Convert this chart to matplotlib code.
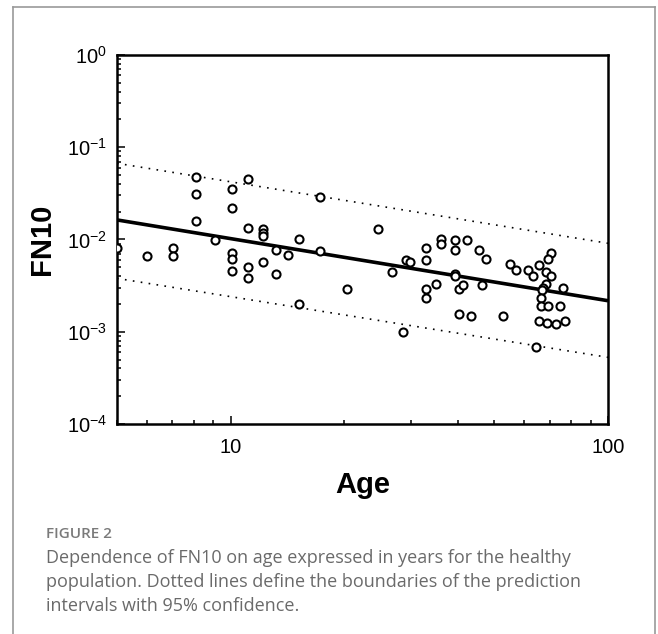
import numpy as np
import matplotlib
matplotlib.use("Agg")
import matplotlib.pyplot as plt
from matplotlib.lines import Line2D
from matplotlib.ticker import LogLocator, FuncFormatter, NullFormatter

plt.rcParams['font.family'] = ['Liberation Sans', 'DejaVu Sans']

# data (age in years, FN10)
age = np.array([5.0, 6.0, 7.05, 7.05, 8.1, 8.1, 8.1, 9.1,
                10.1, 10.1, 10.1, 10.1, 10.1, 11.1, 11.1, 11.1, 11.1,
                12.2, 12.2, 12.2, 12.2, 13.2, 13.2, 14.2, 15.2, 15.2,
                17.3, 17.3, 20.4, 24.6, 26.7, 28.7, 29.2, 29.8,
                32.9, 32.9, 32.9, 32.9, 35.0, 36.0, 36.0,
                39.2, 39.2, 39.2, 39.2, 40.2, 41.3, 40.3, 42.3, 43.3,
                45.5, 47.5, 46.5, 52.7, 55.0, 57.0, 61.2, 63.1, 64.4, 65.5,
                70.6, 69.5, 68.5, 70.6, 68.5, 67.4, 66.8, 66.4, 75.8,
                66.4, 69.5, 74.7, 65.5, 69.0, 72.7, 76.9])
fn10 = np.array([0.0080, 0.0066, 0.0080, 0.0067, 0.048, 0.031, 0.0159, 0.0098,
                 0.0353, 0.0218, 0.0072, 0.0061, 0.0046, 0.0453, 0.0133, 0.0050, 0.0038,
                 0.0129, 0.0119, 0.0110, 0.0057, 0.0077, 0.0042, 0.0068, 0.0101, 0.0020,
                 0.0289, 0.0075, 0.0029, 0.0131, 0.0044, 0.00099, 0.0060, 0.0057,
                 0.0081, 0.0060, 0.0029, 0.0023, 0.0033, 0.0102, 0.0089,
                 0.0098, 0.0076, 0.0042, 0.0040, 0.0029, 0.0032, 0.00155, 0.0099, 0.00149,
                 0.0076, 0.0061, 0.0032, 0.00149, 0.0054, 0.0047, 0.0047, 0.0040, 0.00068, 0.0053,
                 0.0071, 0.0061, 0.0044, 0.0040, 0.0033, 0.0030, 0.0028, 0.0023, 0.0030,
                 0.0019, 0.0019, 0.0019, 0.0013, 0.00125, 0.00121, 0.0013])

# regression line and 95% prediction bounds (end points)
line_age = np.array([5, 100])
fit_fn = np.array([0.0163, 0.00217])
upper_fn = np.array([0.067, 0.0091])
lower_fn = np.array([0.00379, 0.000528])

fig = plt.figure(figsize=(6.58, 6.34), dpi=100)
ax = fig.add_axes([117/658, 1-424/634, 491/658, 369/634])

ax.plot(line_age, fit_fn, color='black', lw=2.6, solid_capstyle='butt', zorder=2)
ax.plot(line_age, upper_fn, color='black', lw=1.2, linestyle=(0, (1, 3.8)), zorder=2)
ax.plot(line_age, lower_fn, color='black', lw=1.2, linestyle=(0, (1, 3.8)), zorder=2)
ax.plot(age, fn10, 'o', mfc='white', mec='black', ms=5.8, mew=1.5, zorder=3)

ax.set_xscale('log')
ax.set_yscale('log')
ax.set_xlim(5, 100)
ax.set_ylim(1e-4, 1)

ax.xaxis.set_major_locator(LogLocator(base=10, numticks=10))
ax.xaxis.set_minor_locator(LogLocator(base=10, subs=np.arange(2, 10), numticks=10))
ax.xaxis.set_major_formatter(FuncFormatter(lambda v, p: "%d" % round(v)))
ax.xaxis.set_minor_formatter(NullFormatter())
ax.yaxis.set_major_locator(LogLocator(base=10, numticks=10))
ax.yaxis.set_minor_locator(LogLocator(base=10, subs=np.arange(2, 10), numticks=10))
ax.yaxis.set_major_formatter(FuncFormatter(lambda v, p: r"$\mathregular{10^{%d}}$" % round(np.log10(v))))
ax.yaxis.set_minor_formatter(NullFormatter())

ax.tick_params(which='both', direction='in', top=False, right=False, width=1.1, colors='black')
ax.tick_params(which='major', length=6, labelsize=14.5)
ax.tick_params(axis='x', which='major', pad=10)
ax.tick_params(axis='y', which='major', pad=7)
ax.tick_params(which='minor', length=3.2)
for s in ax.spines.values():
    s.set_linewidth(1.8)

ax.set_xlabel("Age", fontsize=21, fontweight='bold', labelpad=10)
ax.set_ylabel("FN10", fontsize=21, fontweight='bold', labelpad=8)

# caption below the chart
fig.text(46/658, 1-534/634, "FIGURE 2", fontsize=11, color='#7a7a7a',
         fontweight='semibold', family='Open Sans', va='center')
caption = ["Dependence of FN10 on age expressed in years for the healthy",
           "population. Dotted lines define the boundaries of the prediction",
           "intervals with 95% confidence."]
for i, txt in enumerate(caption):
    fig.text(46/658, 1-(558 + 24*i)/634, txt, fontsize=13, color='#6a6a6a',
             family='Open Sans', va='center')

# grey frame around the figure (open at the bottom)
fx0, fx1, fy0 = 13/658, 655/658, 1-7/634
for xs, ys in [([fx0, fx0], [0, fy0]), ([fx1, fx1], [0, fy0]), ([fx0, fx1], [fy0, fy0])]:
    fig.add_artist(Line2D(xs, ys, transform=fig.transFigure, color='#9a9a9a', lw=1.2))

fig.savefig("out.png", dpi=100)
